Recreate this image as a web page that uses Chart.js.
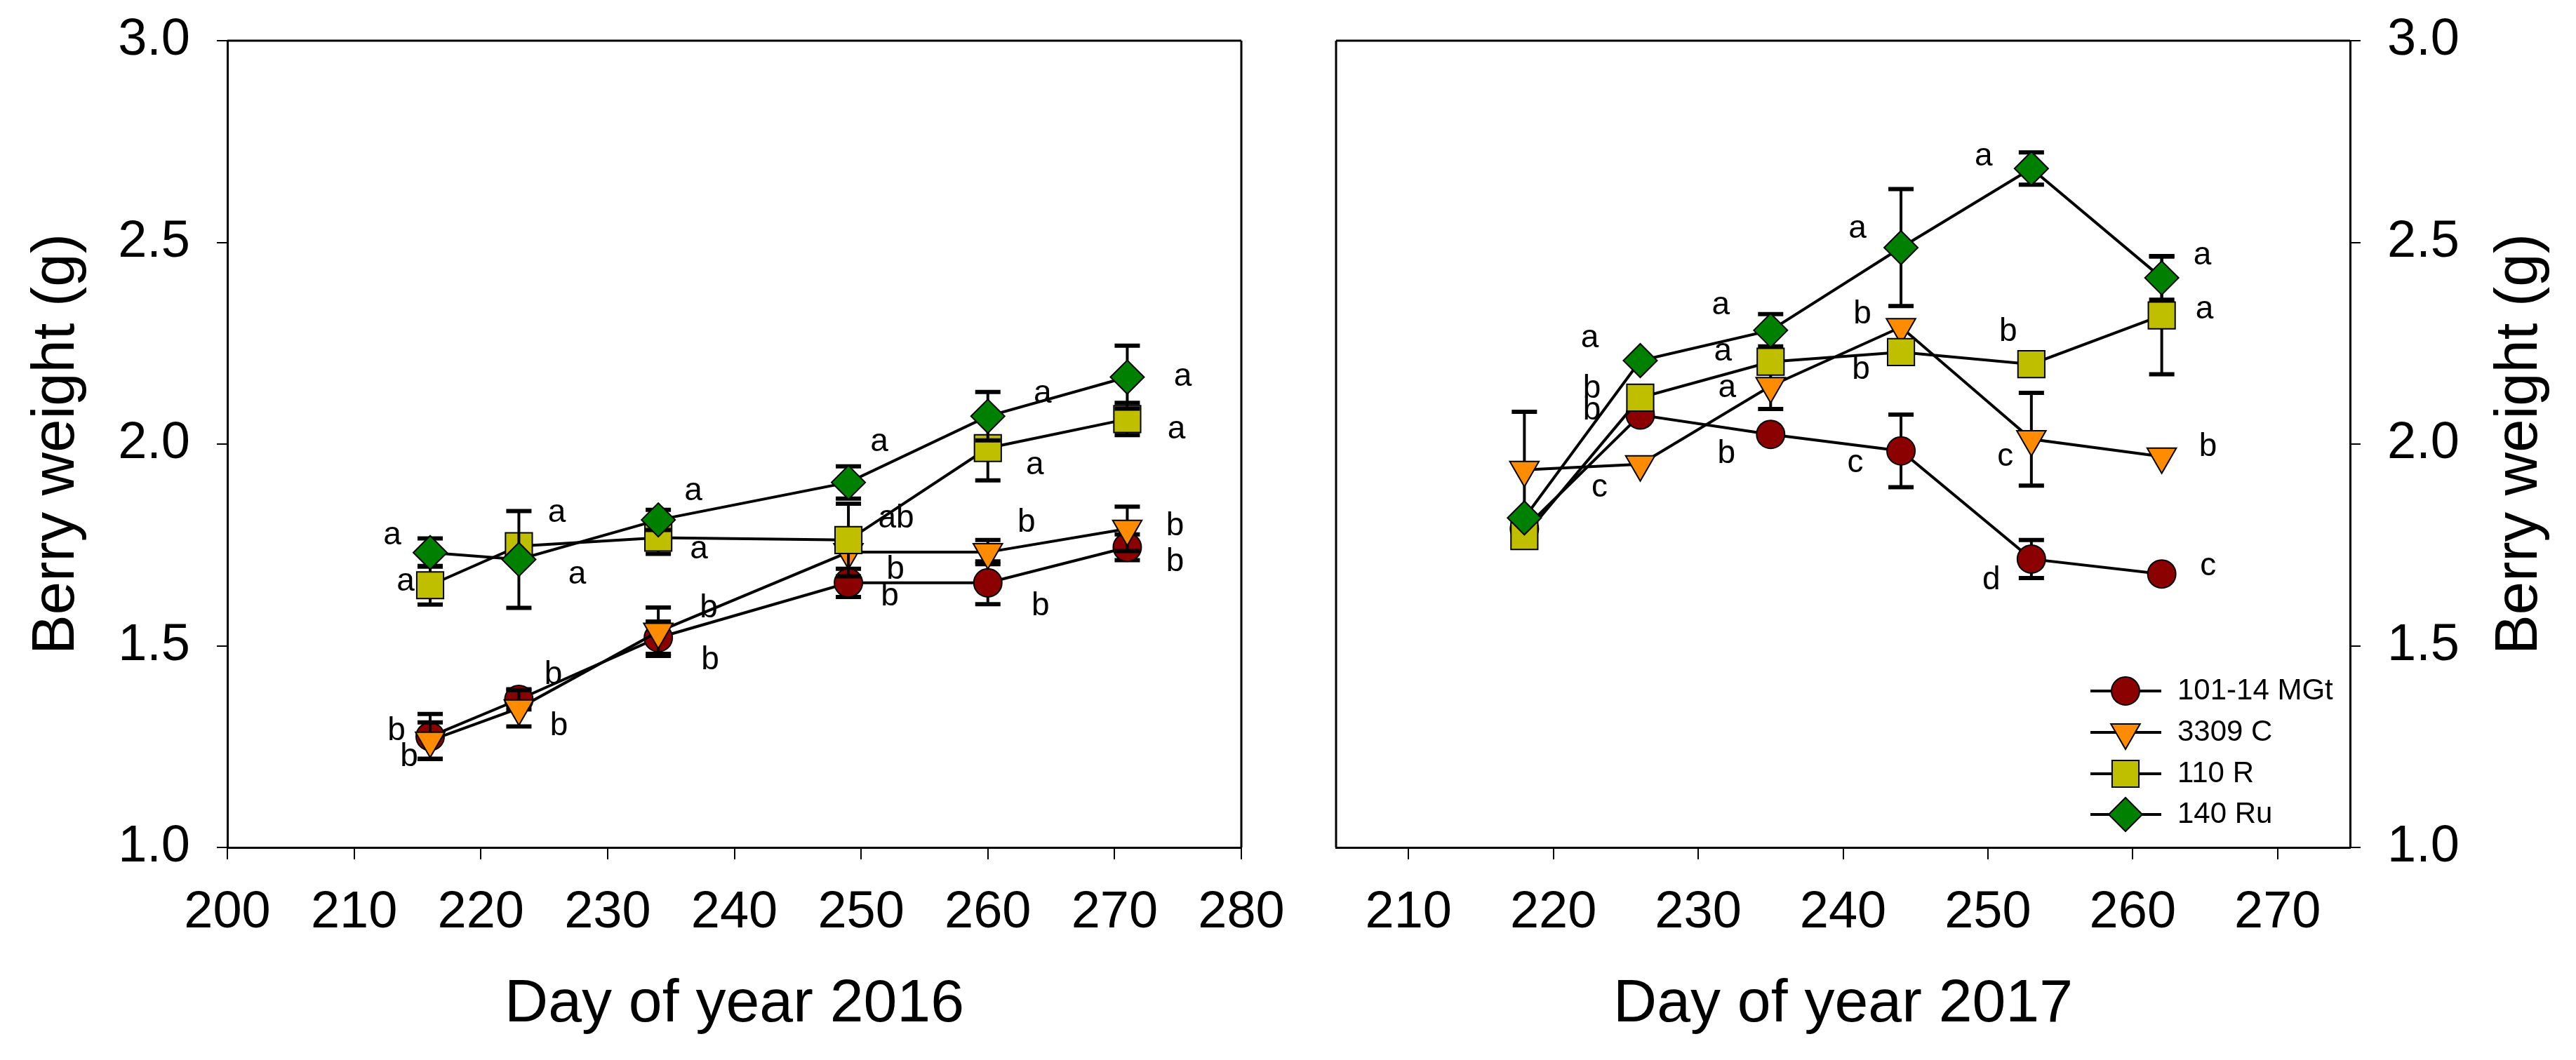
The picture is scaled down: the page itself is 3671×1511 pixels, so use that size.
<!DOCTYPE html>
<html>
<head>
<meta charset="utf-8">
<script src="https://cdn.jsdelivr.net/npm/chart.js@4.4.1/dist/chart.umd.min.js"></script>
<style>
  html, body { margin: 0; padding: 0; background: #fff; }
  body { width: 3671px; height: 1511px; position: relative; overflow: hidden; }
  canvas { position: absolute; top: 0; }
  #c2016 { left: 0; }
  #c2017 { left: 1836px; }
</style>
</head>
<body>
<canvas id="c2016" width="1836" height="1511"></canvas>
<canvas id="c2017" width="1835" height="1511"></canvas>
<script>
// ---- data ----
const seriesNames = ['101-14 MGt', '3309 C', '110 R', '140 Ru'];

const days2016 = [216, 223, 234, 249, 260, 271];
const mgt2016   = [1.275, 1.367, 1.52, 1.656, 1.656, 1.744];
const c3309_2016 = [1.265, 1.345, 1.535, 1.732, 1.732, 1.79];
const r110_2016  = [1.65, 1.747, 1.768, 1.762, 1.99, 2.062];
const ru140_2016 = [1.731, 1.714, 1.812, 1.905, 2.069, 2.166];
// standard errors 2016
const mgt2016Err   = [0.056, 0.025, 0.04, 0.035, 0.053, 0.032];
const c3309_2016Err = [0.045, 0.045, 0.06, 0, 0.03, 0.055];
const r110_2016Err  = [0.048, 0, 0.04, 0.09, 0.08, 0.04];
const ru140_2016Err = [0.035, 0.12, 0.025, 0.04, 0.06, 0.078];
const letters2016 = [
  ['b', 'b', 'b', 'b', 'b', 'b'],
  ['b', 'b', 'b', 'b', 'b', 'b'],
  ['a', 'a', 'a', 'ab', 'a', 'a'],
  ['a', 'a', 'a', 'a', 'a', 'a']
];

const days2017 = [218, 226, 235, 244, 253, 262];
const mgt2017   = [1.79, 2.072, 2.024, 1.983, 1.715, 1.678];
const c3309_2017 = [1.936, 1.95, 2.144, 2.29, 2.012, 1.969];
const r110_2017  = [1.772, 2.115, 2.204, 2.228, 2.198, 2.319];
const ru140_2017 = [1.817, 2.207, 2.282, 2.487, 2.683, 2.412];
// standard errors 2017
const mgt2017Err   = [0, 0, 0, 0.09, 0.047, 0];
const c3309_2017Err = [0.144, 0, 0.057, 0, 0.115, 0];
const r110_2017Err  = [0, 0, 0, 0, 0, 0.146];
const ru140_2017Err = [0, 0, 0.04, 0.145, 0.04, 0.054];
const letters2017 = [
  ['', 'b', 'b', 'c', 'd', 'c'],
  ['', 'c', 'a', 'b', 'c', 'b'],
  ['', 'b', 'a', 'b', 'b', 'a'],
  ['', 'a', 'a', 'a', 'a', 'a']
];

const xTicks2016 = [200, 210, 220, 230, 240, 250, 260, 270, 280];
const xTicks2017 = [210, 220, 230, 240, 250, 260, 270];
const yTicks = [1.0, 1.5, 2.0, 2.5, 3.0];

// ---- layout / style ----
const FONT = 'Liberation Sans, Arial, Helvetica, sans-serif';
const markers = [
  { color: '#8B0000', pointStyle: 'circle',  radius: 20, rotation: 0 },
  { color: '#FF8C00', pointStyle: 'triangle', radius: 24, rotation: 180 },
  { color: '#BFBF00', pointStyle: 'rect',    radius: 27, rotation: 0 },
  { color: '#008000', pointStyle: 'rectRot', radius: 24, rotation: 0 }
];
// pixel offsets of the significance letters from their point
const letterPos2016 = [
  [[-48, -8], [49, -35], [74, 32], [59, 20], [75, 34], [68, 21]],
  [[-30, 24], [57, 26], [72, -33], [67, 25], [55, -42], [68, -3]],
  [[-35, -5], [54, -47], [58, 17], [68, -31], [67, 25], [70, 15]],
  [[-54, -24], [83, 22], [50, -41], [44, -57], [78, -32], [79, 0]]
];
const letterPos2017 = [
  [null, [-69, -6], [-63, 28], [-65, 18], [-57, 30], [66, -11]],
  [null, [-58, 34], [-62, 3], [-55, -18], [-37, 25], [66, -14]],
  [null, [-69, -13], [-68, -14], [-57, 25], [-33, -46], [61, -8]],
  [null, [-72, -32], [-71, -36], [-62, -27], [-68, -17], [58, -32]]
];

function buildDatasets(days, series) {
  return series.map((vals, k) => ({
    label: seriesNames[k],
    data: days.map((d, i) => ({ x: d, y: vals[i] })),
    borderColor: '#000',
    borderWidth: 4,
    tension: 0,
    fill: false,
    pointStyle: markers[k].pointStyle,
    pointRadius: markers[k].radius,
    pointRotation: markers[k].rotation,
    pointBackgroundColor: markers[k].color,
    pointBorderColor: '#000',
    pointBorderWidth: 2,
    order: 4 - k,
    clip: false
  }));
}

function errorBars(errs) {
  return {
    id: 'errorBars',
    beforeDatasetDraw(chart, args) {
      const e = errs[args.index];
      const ds = chart.data.datasets[args.index];
      const ys = chart.scales.y;
      const ctx = chart.ctx;
      ctx.save();
      ctx.strokeStyle = '#000';
      args.meta.data.forEach((pt, i) => {
        if (!e[i]) return;
        const v = ds.data[i].y;
        const yt = ys.getPixelForValue(v + e[i]);
        const yb = ys.getPixelForValue(v - e[i]);
        ctx.lineWidth = 4;
        ctx.beginPath();
        ctx.moveTo(pt.x, yt); ctx.lineTo(pt.x, yb);
        ctx.stroke();
        ctx.lineWidth = 6;
        ctx.beginPath();
        ctx.moveTo(pt.x - 18, yt); ctx.lineTo(pt.x + 18, yt);
        ctx.moveTo(pt.x - 18, yb); ctx.lineTo(pt.x + 18, yb);
        ctx.stroke();
      });
      ctx.restore();
    }
  };
}

function sigLetters(letters, pos) {
  return {
    id: 'sigLetters',
    afterDatasetsDraw(chart) {
      const ctx = chart.ctx;
      ctx.save();
      ctx.font = '46px ' + FONT;
      ctx.fillStyle = '#000';
      ctx.textAlign = 'center';
      ctx.textBaseline = 'middle';
      chart.data.datasets.forEach((ds, k) => {
        const meta = chart.getDatasetMeta(k);
        meta.data.forEach((pt, i) => {
          const t = letters[k][i];
          if (!t) return;
          const o = pos[k][i];
          ctx.fillText(t, pt.x + o[0], pt.y + o[1]);
        });
      });
      ctx.restore();
    }
  };
}

// top edge plus the side opposite the y axis
function frame(side) {
  return {
    id: 'frame',
    afterDraw(chart) {
      const a = chart.chartArea, ctx = chart.ctx;
      ctx.save();
      ctx.strokeStyle = '#000';
      ctx.lineWidth = 3;
      ctx.beginPath();
      ctx.moveTo(a.left, a.top); ctx.lineTo(a.right, a.top);
      const x = side === 'right' ? a.right : a.left;
      ctx.moveTo(x, a.top); ctx.lineTo(x, a.bottom);
      ctx.stroke();
      ctx.restore();
    }
  };
}

function drawMarker(ctx, m, x, y) {
  ctx.fillStyle = m.color;
  ctx.strokeStyle = '#000';
  ctx.lineWidth = 2;
  if (Chart.helpers && Chart.helpers.drawPoint) {
    Chart.helpers.drawPoint(ctx, { pointStyle: m.pointStyle, radius: m.radius, rotation: m.rotation, borderWidth: 2 }, x, y);
    return;
  }
  ctx.beginPath();
  ctx.arc(x, y, m.radius, 0, Math.PI * 2);
  ctx.fill(); ctx.stroke();
}

const legendBox = {
  id: 'legendBox',
  afterDraw(chart) {
    const ctx = chart.ctx;
    const rows = [985, 1044, 1103, 1161];
    ctx.save();
    seriesNames.forEach((name, k) => {
      const y = rows[k];
      ctx.strokeStyle = '#000';
      ctx.lineWidth = 4;
      ctx.beginPath();
      ctx.moveTo(1143, y); ctx.lineTo(1244, y);
      ctx.stroke();
      drawMarker(ctx, markers[k], 1193, y);
      ctx.fillStyle = '#000';
      ctx.font = '42px ' + FONT;
      ctx.textAlign = 'left';
      ctx.textBaseline = 'middle';
      ctx.fillText(name, 1267, y);
    });
    ctx.restore();
  }
};

// right-hand y title reads bottom-to-top like the left one
const rightTitle = {
  id: 'rightTitle',
  afterDraw(chart) {
    const a = chart.chartArea, ctx = chart.ctx;
    ctx.save();
    ctx.translate(1756, (a.top + a.bottom) / 2);
    ctx.rotate(-Math.PI / 2);
    ctx.font = '85px ' + FONT;
    ctx.fillStyle = '#000';
    ctx.textAlign = 'center';
    ctx.textBaseline = 'middle';
    ctx.fillText('Berry weight (g)', 0, 0);
    ctx.restore();
  }
};

function noOverflow(s) {
  s.paddingLeft = 0; s.paddingRight = 0; s.paddingTop = 0; s.paddingBottom = 0;
}

function xScale(min, max, ticks, title) {
  return {
    type: 'linear', position: 'bottom', min: min, max: max,
    afterBuildTicks: s => { s.ticks = ticks.map(v => ({ value: v })); },
    ticks: { autoSkip: false, maxRotation: 0, color: '#000', padding: 32,
             font: { family: FONT, size: 74 }, callback: v => String(v) },
    grid: { drawOnChartArea: false, drawTicks: true, tickLength: 17, color: '#000', lineWidth: 2 },
    border: { display: true, color: '#000', width: 3 },
    title: { display: true, text: title, color: '#000',
             font: { family: FONT, size: 86, lineHeight: 1 }, padding: { top: 0, bottom: 36 } },
    afterFit: s => { s.height = 303; noOverflow(s); }
  };
}

function yScale(position, width, withTitle) {
  return {
    type: 'linear', position: position, min: 1, max: 3,
    afterBuildTicks: s => { s.ticks = yTicks.map(v => ({ value: v })); },
    ticks: { color: '#000', padding: 38, font: { family: FONT, size: 74 },
             callback: v => Number(v).toFixed(1) },
    grid: { drawOnChartArea: false, drawTicks: true, tickLength: 15, color: '#000', lineWidth: 2 },
    border: { display: true, color: '#000', width: 3 },
    title: { display: withTitle, text: 'Berry weight (g)', color: '#000',
             font: { family: FONT, size: 85, lineHeight: 1 }, padding: { top: 39, bottom: 0 } },
    afterFit: s => { s.width = width; noOverflow(s); }
  };
}

const baseOptions = {
  responsive: false,
  devicePixelRatio: 1,
  animation: false,
  events: [],
  plugins: { legend: { display: false }, tooltip: { enabled: false } }
};

new Chart(document.getElementById('c2016'), {
  type: 'line',
  data: { datasets: buildDatasets(days2016, [mgt2016, c3309_2016, r110_2016, ru140_2016]) },
  options: Object.assign({}, baseOptions, {
    layout: { autoPadding: false, padding: { left: 0, top: 58, right: 67, bottom: 0 } },
    scales: {
      x: xScale(200, 280, xTicks2016, 'Day of year 2016'),
      y: yScale('left', 324, true)
    }
  }),
  plugins: [
    errorBars([mgt2016Err, c3309_2016Err, r110_2016Err, ru140_2016Err]),
    sigLetters(letters2016, letterPos2016),
    frame('right')
  ]
});

new Chart(document.getElementById('c2017'), {
  type: 'line',
  data: { datasets: buildDatasets(days2017, [mgt2017, c3309_2017, r110_2017, ru140_2017]) },
  options: Object.assign({}, baseOptions, {
    layout: { autoPadding: false, padding: { left: 68, top: 58, right: 0, bottom: 0 } },
    scales: {
      x: xScale(205, 275, xTicks2017, 'Day of year 2017'),
      y: yScale('right', 322, false)
    }
  }),
  plugins: [
    errorBars([mgt2017Err, c3309_2017Err, r110_2017Err, ru140_2017Err]),
    sigLetters(letters2017, letterPos2017),
    frame('left'),
    legendBox,
    rightTitle
  ]
});
</script>
</body>
</html>
